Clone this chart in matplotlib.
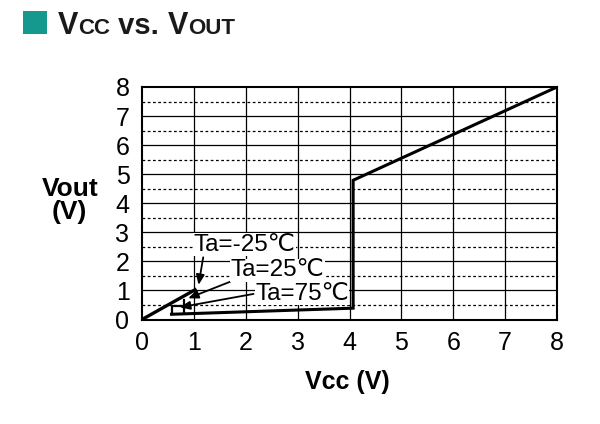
import matplotlib
matplotlib.use('Agg')
import matplotlib.pyplot as plt
from matplotlib.patches import Rectangle
from matplotlib import font_manager

# ---- data ----
x_ticks = [0, 1, 2, 3, 4, 5, 6, 7, 8]
y_ticks = [0, 1, 2, 3, 4, 5, 6, 7, 8]
vcc_rise = [0.0, 1.05]
vout_rise = [0.0, 1.05]
vcc_low = [0.57, 4.07, 4.07, 8.0]
vout_low = [0.18, 0.39, 4.79, 8.0]
loop75_x = [0.57, 0.57, 0.80]
loop75_y = [0.18, 0.47, 0.47]
loop25_x = [0.80, 0.80]
loop25_y = [0.27, 0.67]
labels = ['Ta=-25℃', 'Ta=25℃', 'Ta=75℃']
label_pos = [(0.99, 2.57), (1.70, 1.70), (2.18, 0.88)]
arrow_tail = [(1.18, 2.14), (1.70, 1.30), (2.15, 0.88)]
arrow_tip = [(1.09, 1.19), (0.89, 0.73), (0.73, 0.42)]

names = {f.name for f in font_manager.fontManager.ttflist}
narrow = 'Liberation Sans Narrow' if 'Liberation Sans Narrow' in names else 'Liberation Sans'
FAM = [narrow, 'DejaVu Sans']
plt.rcParams['font.family'] = FAM

fig = plt.figure(figsize=(6.0, 4.24), dpi=100)
ax = fig.add_axes([142/600, 1-319.5/424, (557-142)/600, (319.5-87)/424])
ax.set_xlim(0, 8)
ax.set_ylim(0, 8)

# grid
for v in x_ticks[1:-1]:
    ax.axvline(v, color='black', lw=0.9, zorder=1)
for v in y_ticks[1:-1]:
    ax.axhline(v, color='black', lw=0.9, zorder=1)
for i in range(8):
    ax.axhline(i + 0.5, color='black', lw=0.9, ls=(0, (2.2, 2.0)), zorder=1)

ax.plot(vcc_rise, vout_rise, color='black', lw=2.4, solid_capstyle='butt', zorder=3)
ax.plot(vcc_low, vout_low, color='black', lw=2.2, solid_joinstyle='miter', zorder=3)
ax.plot(loop75_x, loop75_y, color='black', lw=1.6, zorder=3)
ax.plot(loop25_x, loop25_y, color='black', lw=1.6, zorder=3)

for lab, pos, tail, tip in zip(labels, label_pos, arrow_tail, arrow_tip):
    ax.text(pos[0], pos[1], lab, fontsize=17.5, va='center', ha='left', zorder=5,
            bbox=dict(facecolor='white', edgecolor='none', pad=0.3))
    ax.annotate('', xy=tip, xytext=tail, zorder=4,
                arrowprops=dict(arrowstyle='-|>,head_length=0.6,head_width=0.25',
                                color='black', lw=1.3, shrinkA=0, shrinkB=0))

for s in ax.spines.values():
    s.set_linewidth(1.5)
ax.set_xticks(x_ticks)
ax.set_yticks(y_ticks)
ax.set_xticklabels([str(v) for v in x_ticks])
ax.set_yticklabels([str(v) for v in y_ticks])
ax.tick_params(axis='x', length=0, labelsize=18, pad=8)
ax.tick_params(axis='y', length=0, labelsize=18, pad=9)

# axis labels
fig.text(70/600, 1-189/424, 'Vout', fontsize=19, fontweight='bold', ha='center', va='center')
fig.text(69/600, 1-212/424, '(V)', fontsize=19, fontweight='bold', ha='center', va='center')
fig.text(347/600, 1-382/424, 'Vcc (V)', fontsize=18, fontweight='bold', ha='center', va='center')

# title
fig.patches.append(Rectangle((23/600, 1-34/424), 24/600, 23/424, transform=fig.transFigure,
                             facecolor='#15998f', edgecolor='none'))
renderer = fig.canvas.get_renderer()
pieces = [('V', 22), ('CC', 16), (' vs. ', 21), ('V', 22), ('OUT', 16)]
xpos = 58/600
for txt, sz in pieces:
    t = fig.text(xpos, 1-34/424, txt, fontsize=sz, fontweight='heavy', color='#1a1a1a',
                 ha='left', va='baseline')
    bb = t.get_window_extent(renderer)
    xpos += bb.width / 600

fig.savefig('out.png', dpi=100)
